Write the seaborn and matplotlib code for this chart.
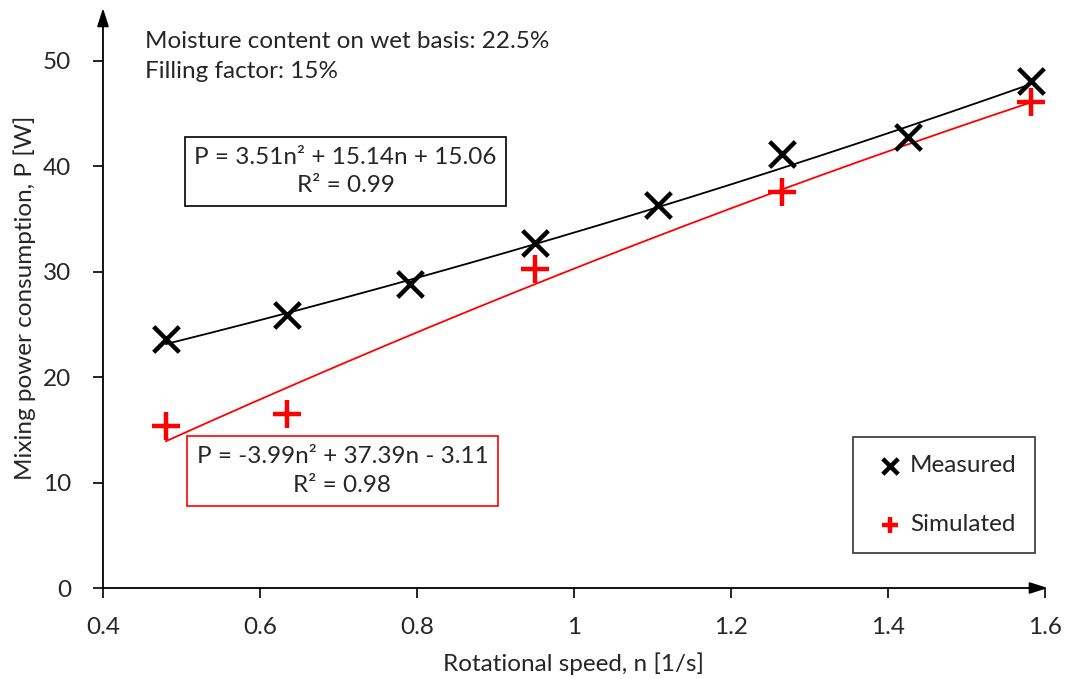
import numpy as np
import pandas as pd
import matplotlib
matplotlib.use("Agg")
import matplotlib.pyplot as plt
import seaborn as sns

# data
speed_meas = [0.48, 0.634, 0.791, 0.950, 1.107, 1.265, 1.425, 1.582]
power_meas = [23.6, 25.9, 28.8, 32.7, 36.3, 41.2, 42.8, 48.1]
speed_sim = [0.48, 0.634, 0.950, 1.265, 1.582]
power_sim = [15.4, 16.5, 30.3, 37.6, 46.1]

# trendline coefficients as printed in the chart (n^2, n, const)
coef_meas = [3.51, 15.14, 15.06]
coef_sim = [-3.99, 37.39, -3.11]

FS = 17.5

sns.set_style("white")
plt.rcParams["font.family"] = ["Lato", "DejaVu Sans"]

fig = plt.figure(figsize=(10.65, 6.79), dpi=100)
ax = fig.add_axes([0.0967, 0.134, 0.8845, 0.854])

n = np.linspace(0.48, 1.582, 200)
fit = pd.DataFrame({"n": np.concatenate([n, n]),
                    "P": np.concatenate([np.polyval(coef_meas, n), np.polyval(coef_sim, n)]),
                    "kind": ["Measured"] * len(n) + ["Simulated"] * len(n)})
sns.lineplot(data=fit, x="n", y="P", hue="kind", palette=["black", "red"],
             linewidth=1.3, legend=False, ax=ax)

sns.scatterplot(x=speed_meas, y=power_meas, marker="x", s=340, color="black",
                linewidth=3.2, label="Measured", ax=ax, zorder=5)
sns.scatterplot(x=speed_sim, y=power_sim, marker="+", s=380, color="red",
                linewidth=3.2, label="Simulated", ax=ax, zorder=5)

ax.set_xlim(0.4, 1.6)
ax.set_ylim(0, 55)
ax.set_xticks([0.4, 0.6, 0.8, 1.0, 1.2, 1.4, 1.6])
ax.set_xticklabels(["0.4", "0.6", "0.8", "1", "1.2", "1.4", "1.6"])
ax.set_yticks([0, 10, 20, 30, 40, 50])
for s in ax.spines.values():
    s.set_visible(False)
ax.tick_params(axis="both", direction="out", length=7, width=1.2, color="black",
               labelsize=FS, bottom=True, left=True)
ax.tick_params(axis="x", pad=14)
ax.tick_params(axis="y", pad=16)

# arrowed axes
ax.annotate("", xy=(1.003, 0), xytext=(0, 0), xycoords="axes fraction",
            arrowprops=dict(arrowstyle="-|>,head_length=1.1,head_width=0.35",
                            color="black", lw=1.3, shrinkA=0, shrinkB=0))
ax.annotate("", xy=(0, 1.0), xytext=(0, 0), xycoords="axes fraction",
            arrowprops=dict(arrowstyle="-|>,head_length=1.1,head_width=0.35",
                            color="black", lw=1.3, shrinkA=0, shrinkB=0))

ax.set_xlabel("Rotational speed, n [1/s]", fontsize=FS, labelpad=10)
ax.set_ylabel("Mixing power consumption, P [W]", fontsize=FS, labelpad=5)

ax.text(0.453, 51.8, "Moisture content on wet basis: 22.5%", fontsize=FS, va="center")
ax.text(0.453, 49.0, "Filling factor: 15%", fontsize=FS, va="center")

ax.text(0.709, 39.5, "P = 3.51n² + 15.14n + 15.06\nR² = 0.99", fontsize=FS,
        ha="center", va="center", multialignment="center", linespacing=1.45,
        bbox=dict(boxstyle="square,pad=0.4", fc="white", ec="black", lw=1.2))
ax.text(0.705, 11.1, "P = -3.99n² + 37.39n - 3.11\nR² = 0.98", fontsize=FS,
        ha="center", va="center", multialignment="center", linespacing=1.45,
        bbox=dict(boxstyle="square,pad=0.4", fc="white", ec="red", lw=1.2))

leg = ax.legend(loc="lower right", bbox_to_anchor=(0.989, 0.06), borderaxespad=0,
                fontsize=FS, frameon=True, fancybox=False, edgecolor="black",
                handletextpad=0.0, handlelength=1.6, labelspacing=1.55,
                borderpad=0.75, markerscale=0.6)
leg.get_frame().set_linewidth(1.2)

fig.savefig("out.png", dpi=100)
